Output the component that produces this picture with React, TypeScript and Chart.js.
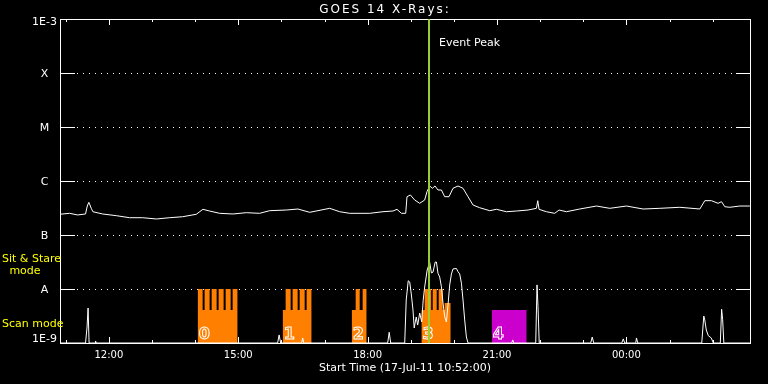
import React, { useEffect, useRef } from "react";
import { Chart, registerables } from "chart.js";

Chart.register(...registerables);

// ---------- data ----------
const START_HOUR = 10 + 52 / 60; // 17-Jul-11 10:52
const END_HOUR = START_HOUR + 16;
const EVENT_PEAK_HOUR = 19.42;
const TITLE = "GOES 14 X-Rays:";
const X_TITLE = "Start Time (17-Jul-11 10:52:00)";

const longTimes = [
  10.857, 11.088, 11.274, 11.459, 11.499, 11.536, 11.592, 11.629, 11.854, 12.172,
  12.48, 12.782, 13.1, 13.408, 13.71, 14.027, 14.181, 14.336, 14.568, 14.876,
  15.187, 15.496, 15.728, 16.115, 16.384, 16.656, 17.12, 17.352, 17.584, 18.048,
  18.356, 18.588, 18.681, 18.783, 18.883, 18.913, 18.991, 19.091, 19.207, 19.323,
  19.377, 19.439, 19.502, 19.562, 19.632, 19.711, 19.787, 19.887, 19.98, 20.096,
  20.212, 20.328, 20.444, 20.599, 20.831, 20.987, 21.219, 21.451, 21.72, 21.914,
  21.945, 21.975, 22.146, 22.339, 22.439, 22.61, 22.919, 23.306, 23.615, 24.002,
  24.388, 24.775, 25.239, 25.703, 25.819, 25.974, 26.127, 26.206, 26.282, 26.398,
  26.63, 26.862,
];
const longFlux = [
  2.42e-7, 2.52e-7, 2.35e-7, 2.45e-7, 3.44e-7, 4.03e-7, 3.12e-7, 2.7e-7, 2.45e-7, 2.28e-7,
  2.09e-7, 2.09e-7, 1.98e-7, 2.09e-7, 2.18e-7, 2.42e-7, 2.99e-7, 2.78e-7, 2.52e-7, 2.45e-7,
  2.59e-7, 2.52e-7, 2.82e-7, 2.9e-7, 3.03e-7, 2.63e-7, 3.12e-7, 2.7e-7, 2.52e-7, 2.52e-7,
  2.7e-7, 2.78e-7, 2.99e-7, 2.52e-7, 2.52e-7, 5.12e-7, 5.51e-7, 4.45e-7, 3.86e-7, 4.45e-7,
  6.34e-7, 8.08e-7, 7.32e-7, 8.08e-7, 6.81e-7, 6.81e-7, 5.12e-7, 5.12e-7, 7.32e-7, 8.08e-7,
  7.32e-7, 5.12e-7, 3.59e-7, 3.2e-7, 2.82e-7, 2.99e-7, 2.7e-7, 2.78e-7, 2.9e-7, 3.12e-7,
  4.32e-7, 2.99e-7, 2.7e-7, 2.52e-7, 2.9e-7, 2.7e-7, 3.03e-7, 3.44e-7, 3.12e-7, 3.44e-7,
  3.03e-7, 3.12e-7, 3.26e-7, 3.03e-7, 4.32e-7, 4.32e-7, 3.86e-7, 4.14e-7, 3.34e-7, 3.26e-7,
  3.44e-7, 3.44e-7,
];

const shortTimes = [
  10.857, 11.459, 11.494, 11.518, 11.541, 11.68, 11.692, 11.703, 15.913, 15.948,
  15.983, 16.47, 16.494, 16.517, 18.465, 18.5, 18.535, 18.86, 18.895, 18.941,
  18.976, 19.015, 19.052, 19.08, 19.127, 19.161, 19.208, 19.254, 19.289, 19.323,
  19.381, 19.439, 19.479, 19.516, 19.567, 19.595, 19.632, 19.671, 19.711, 19.748,
  19.787, 19.827, 19.864, 19.903, 19.943, 19.98, 20.059, 20.096, 20.135, 20.175,
  20.212, 20.251, 20.29, 20.328, 21.342, 21.365, 21.388, 21.898, 21.928, 21.951,
  21.979, 23.173, 23.208, 23.243, 23.893, 23.928, 23.962, 24.218, 24.234, 24.264,
  25.748, 25.795, 25.818, 25.853, 25.899, 25.969, 26.016, 26.178, 26.209, 26.232,
  26.26, 26.862,
];
const shortFlux = [
  1e-9, 1e-9, 1.98e-9, 4.45e-9, 1e-9, 1e-9, 1.09e-9, 1e-9, 1e-9, 1.41e-9,
  1e-9, 1e-9, 1.24e-9, 1e-9, 1e-9, 1.58e-9, 1e-9, 1e-9, 6.26e-9, 1.42e-8,
  1.35e-8, 7.74e-9, 4.08e-9, 1.9e-9, 3.03e-9, 2.15e-9, 3.59e-9, 2.45e-9, 6.26e-9, 1.09e-8,
  2.25e-8, 3.12e-8, 1.98e-8, 2.06e-8, 3.16e-8, 3.16e-8, 1.95e-8, 1.67e-8, 1.1e-8, 5.51e-9,
  3.07e-9, 2.45e-9, 5.05e-9, 1.19e-8, 1.9e-8, 2.35e-8, 2.4e-8, 2.09e-8, 1.9e-8, 1.28e-8,
  6.26e-9, 2.67e-9, 1.29e-9, 1e-9, 1e-9, 1.14e-9, 1e-9, 1e-9, 1.19e-8, 4.7e-9,
  1e-9, 1e-9, 1.29e-9, 1e-9, 1e-9, 1.19e-9, 1e-9, 1e-9, 1.24e-9, 1e-9,
  1e-9, 3.16e-9, 2.67e-9, 1.74e-9, 1.37e-9, 1.24e-9, 1e-9, 1e-9, 4.21e-9, 2.75e-9,
  1e-9, 1e-9,
];

const yTickValues = [1e-9, 1e-8, 1e-7, 1e-6, 1e-5, 1e-4, 1e-3];
const yTickLabels = ["1E-9", "A", "B", "C", "M", "X", "1E-3"];
const xTickValues = [12, 15, 18, 21, 24];
const xTickLabels = ["12:00", "15:00", "18:00", "21:00", "00:00"];

// observation mode levels
const SCAN = 4.1e-9;
const SIT = 1e-8;
const MID = 5.5e-9;

const obsNames = ["0", "1", "2", "3", "4"];
const obs0 = [
  [14.058, 14.174, SIT], [14.174, 14.22, SCAN], [14.22, 14.336, SIT], [14.336, 14.383, SCAN],
  [14.383, 14.499, SIT], [14.499, 14.545, SCAN], [14.545, 14.661, SIT], [14.661, 14.708, SCAN],
  [14.708, 14.824, SIT], [14.824, 14.87, SCAN], [14.87, 14.986, SIT],
];
const obs1 = [
  [16.029, 16.099, SCAN], [16.099, 16.215, SIT], [16.215, 16.261, SCAN], [16.261, 16.377, SIT],
  [16.377, 16.424, SCAN], [16.424, 16.54, SIT], [16.54, 16.586, SCAN], [16.586, 16.702, SIT],
];
const obs2 = [
  [17.63, 17.723, SCAN], [17.723, 17.816, SIT], [17.816, 17.885, SCAN], [17.885, 17.978, SIT],
];
const obs3 = [
  [19.247, 19.323, SCAN], [19.323, 19.474, SIT], [19.474, 19.509, SCAN], [19.509, 19.602, SIT],
  [19.602, 19.648, SCAN], [19.648, 19.741, SIT], [19.741, 19.787, SCAN], [19.787, 19.927, MID],
];
const obs4 = [[20.877, 21.689, SCAN]];
const obsColors = ["#ff8000", "#ff8000", "#ff8000", "#ff8000", "#cc00cc"];

const FONT = "DejaVu Sans";

function stepPoints(segs: number[][]) {
  const pts = segs.map(([s, , l]) => ({ x: s, y: l }));
  const last = segs[segs.length - 1];
  pts.push({ x: last[1], y: last[2] });
  return pts;
}

const decorPlugin = {
  id: "decor",
  beforeDatasetsDraw(chart: any) {
    const { ctx, chartArea, scales } = chart;
    const { left, right, top, bottom } = chartArea;
    const ys = scales.y;
    const xs = scales.x;
    ctx.save();
    ctx.strokeStyle = "#ffffff";
    ctx.lineWidth = 1;
    // horizontal grid lines (dotted, with solid tick ends)
    yTickValues.slice(1, -1).forEach((v) => {
      const y = Math.round(ys.getPixelForValue(v)) + 0.5;
      ctx.setLineDash([]);
      ctx.beginPath();
      ctx.moveTo(left, y);
      ctx.lineTo(left + 15, y);
      ctx.moveTo(right - 14, y);
      ctx.lineTo(right, y);
      ctx.stroke();
      ctx.setLineDash([1, 5]);
      ctx.beginPath();
      ctx.moveTo(left + 17, y);
      ctx.lineTo(right - 15, y);
      ctx.stroke();
    });
    ctx.setLineDash([]);
    // hourly ticks on top/bottom
    for (let h = Math.ceil(START_HOUR); h <= END_HOUR; h++) {
      const x = Math.round(xs.getPixelForValue(h)) + 0.5;
      const len = h % 3 === 0 ? 6 : 3;
      ctx.beginPath();
      ctx.moveTo(x, bottom);
      ctx.lineTo(x, bottom - len);
      ctx.moveTo(x, top);
      ctx.lineTo(x, top + len);
      ctx.stroke();
    }
    ctx.restore();
  },
  afterDatasetsDraw(chart: any) {
    const { ctx, chartArea, scales } = chart;
    const { left, right, top, bottom } = chartArea;
    const xs = scales.x;
    const ys = scales.y;
    ctx.save();
    // frame
    ctx.strokeStyle = "#ffffff";
    ctx.lineWidth = 1;
    ctx.strokeRect(left + 0.5, top + 0.5, right - left, bottom - top);
    // observation numbers (outlined)
    const allObs = [obs0, obs1, obs2, obs3, obs4];
    ctx.font = `bold 16px "${FONT}"`;
    ctx.textBaseline = "alphabetic";
    ctx.textAlign = "left";
    ctx.lineWidth = 1;
    ctx.strokeStyle = "#ffffff";
    allObs.forEach((segs, i) => {
      const x = xs.getPixelForValue(segs[0][0]) + 1;
      ctx.strokeText(obsNames[i], x, bottom - 4);
    });
    // event peak line
    const px = Math.round(xs.getPixelForValue(EVENT_PEAK_HOUR));
    ctx.strokeStyle = "#9acd32";
    ctx.lineWidth = 2;
    ctx.beginPath();
    ctx.moveTo(px, top);
    ctx.lineTo(px, bottom);
    ctx.stroke();
    ctx.fillStyle = "#ffffff";
    ctx.font = `11px "${FONT}"`;
    ctx.textBaseline = "middle";
    ctx.fillText("Event Peak", px + 10, 43);
    // y axis labels (IDL style: end labels pulled inside)
    ctx.textAlign = "center";
    yTickValues.forEach((v, i) => {
      let y = ys.getPixelForValue(v) + 1;
      if (i === 0) y = bottom - 3.5;
      if (i === yTickValues.length - 1) y = top + 3.5;
      ctx.fillText(yTickLabels[i], 44.5, y);
    });
    // title
    ctx.font = `12px "${FONT}"`;
    (ctx as any).letterSpacing = "2px";
    ctx.fillText(TITLE, 385, 10);
    (ctx as any).letterSpacing = "0px";
    // mode labels
    ctx.font = `11px "${FONT}"`;
    ctx.fillStyle = "#ffff00";
    ctx.textAlign = "left";
    ctx.fillText("Sit & Stare", 2, 259);
    ctx.textAlign = "center";
    ctx.fillText("mode", 25, 271);
    ctx.textAlign = "left";
    ctx.fillText("Scan mode", 2, 324);
    ctx.restore();
  },
};

export default function App() {
  const ref = useRef<HTMLCanvasElement | null>(null);
  useEffect(() => {
    if (!ref.current) return;
    const whiteLine = {
      borderColor: "#ffffff",
      borderWidth: 1,
      pointRadius: 0,
      fill: false,
      tension: 0,
    };
    const datasets: any[] = [
      { ...whiteLine, data: longTimes.map((t, i) => ({ x: t, y: longFlux[i] })) },
      { ...whiteLine, data: shortTimes.map((t, i) => ({ x: t, y: shortFlux[i] })) },
      ...[obs0, obs1, obs2, obs3, obs4].map((segs, i) => ({
        data: stepPoints(segs),
        stepped: "before",
        borderWidth: 0,
        borderColor: "rgba(0,0,0,0)",
        backgroundColor: obsColors[i],
        pointRadius: 0,
        fill: "start",
      })),
    ];
    const chart = new Chart(ref.current, {
      type: "line",
      data: { datasets },
      options: {
        animation: false,
        responsive: false,
        devicePixelRatio: 1,
        layout: { padding: { top: 19, right: 18, bottom: 0, left: 0 } },
        plugins: {
          legend: { display: false },
          tooltip: { enabled: false },
          title: { display: false },
        },
        scales: {
          x: {
            type: "linear",
            min: START_HOUR,
            max: END_HOUR,
            afterBuildTicks: (s: any) => {
              s.ticks = xTickValues.map((v) => ({ value: v }));
            },
            afterFit: (s: any) => {
              s.height = 41;
            },
            grid: { display: false, drawTicks: false },
            border: { display: false },
            ticks: {
              color: "#ffffff",
              font: { family: FONT, size: 10 },
              padding: 6,
              maxRotation: 0,
              autoSkip: false,
              callback: (v: any) => {
                const i = xTickValues.indexOf(Number(v));
                return i >= 0 ? xTickLabels[i] : "";
              },
            },
            title: {
              display: true,
              text: X_TITLE,
              color: "#ffffff",
              font: { family: FONT, size: 11 },
              padding: { top: 0, bottom: 9 },
            },
          },
          y: {
            type: "logarithmic",
            min: 1e-9,
            max: 1e-3,
            afterBuildTicks: (s: any) => {
              s.ticks = yTickValues.map((v) => ({ value: v }));
            },
            afterFit: (s: any) => {
              s.width = 60;
            },
            grid: { display: false, drawTicks: false },
            border: { display: false },
            ticks: { display: false },
          },
        },
      } as any,
      plugins: [decorPlugin],
    });
    return () => chart.destroy();
  }, []);
  return (
    <div
      style={{
        position: "fixed",
        left: 0,
        top: 0,
        width: 768,
        height: 384,
        background: "#000000",
      }}
    >
      <canvas ref={ref} width={768} height={384} style={{ display: "block" }} />
    </div>
  );
}
